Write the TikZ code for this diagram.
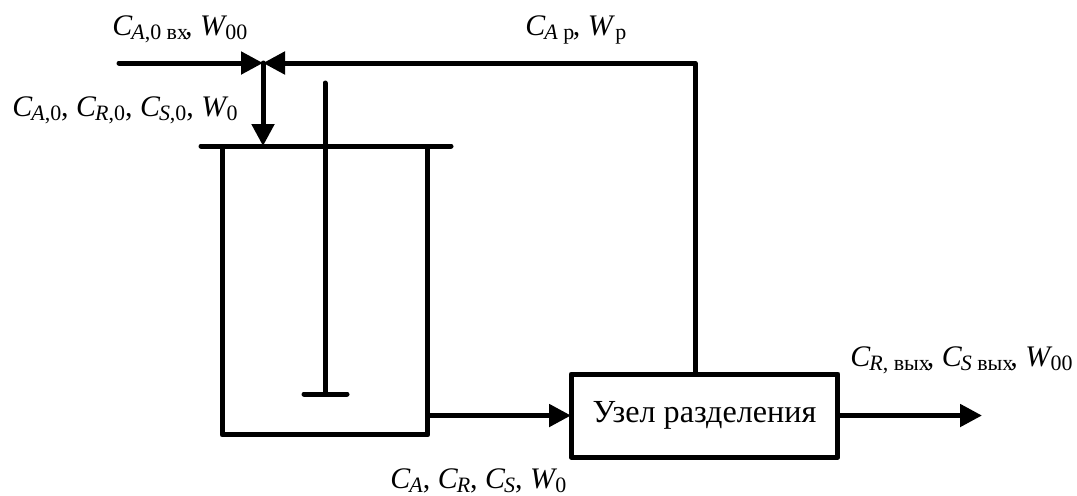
\documentclass[tikz,border=0pt]{standalone}
\usepackage{fontspec}
\setmainfont{Liberation Serif}
\usetikzlibrary{arrows.meta,positioning,calc}
\newcommand{\lowtxt}[1]{\raisebox{-0.16em}{\fontsize{12.5}{14}\selectfont #1}}
\newcommand{\varC}[1]{\textit{C}\kern-0.04em\lowtxt{#1}}
\newcommand{\varW}[1]{\textit{W}\kern-0.06em\lowtxt{#1}}
\tikzset{
  wall/.style={draw=black,line width=0.1cm,line cap=round,line join=round},
  arr/.style={wall,-{Triangle[length=0.44cm,width=0.44cm]}},
  unit/.style={draw=black,fill=white,line width=0.1cm,line join=round,outer sep=0pt,inner sep=0pt},
  lbl/.style={anchor=base west,inner sep=0pt,font=\fontsize{17}{20}\selectfont},
}
\begin{document}
\begin{tikzpicture}[x=0.02cm,y=-0.02cm]
  \useasboundingbox (0,0) rectangle (1077,495);
  % apparatus
  \node[unit,minimum width=4.12cm,minimum height=5.78cm] (vessel) at (325,290.5) {};
  \node[unit,minimum width=5.34cm,minimum height=1.66cm,font=\fontsize{18.3}{20}\selectfont] (sep) at (704.5,415.5) {Узел разделения};
  % points on the lines
  \coordinate (feed) at (119,63);
  \coordinate (mix) at (263,63);
  \coordinate (corner) at (695,63);
  \coordinate (lidl) at (201,146);
  \coordinate (lidr) at (451,146);
  \coordinate (lidin) at (263,146);
  \coordinate (shaftt) at (325,83);
  \coordinate (shaftb) at (325,394);
  \coordinate (footl) at (304,394);
  \coordinate (footr) at (347,394);
  \coordinate (out) at (982,415.5);
  % lid and stirrer
  \draw[wall] (lidl) -- (lidr);
  \draw[wall] (shaftt) -- (shaftb);
  \draw[wall] (footl) -- (footr);
  % flows
  \draw[arr] (feed) -- (mix);
  \draw[arr] (sep.north -| corner) -- (corner) -- (mix);
  \draw[arr] (mix) -- (lidin);
  \draw[arr] (vessel.east |- sep) -- (sep.west);
  \draw[arr] (sep.east) -- (out);
  % labels
  \node[lbl] (lfeed) at (112,35) {\varC{\textit{A},0 вх}\kern-0.1em, \varW{00}};
  \node[lbl] (lrec) at (525,35) {\varC{\textit{A} р}\kern-0.05em, \varW{\kern0.1em р}};
  \node[lbl] (lin) at (12,116) {\varC{\textit{A},0}, \varC{\textit{R},0}, \varC{\textit{S},0}, \varW{0}};
  \node[lbl] (lout) at (850,366) {\varC{\textit{R}, вых}\kern-0.1em, \varC{\textit{S} вых}\kern-0.1em, \varW{00}};
  \node[lbl] (lmid) at (390,488) {\varC{\textit{A}}, \varC{\textit{R}}, \varC{\textit{S}}, \varW{0}};
\end{tikzpicture}
\end{document}
